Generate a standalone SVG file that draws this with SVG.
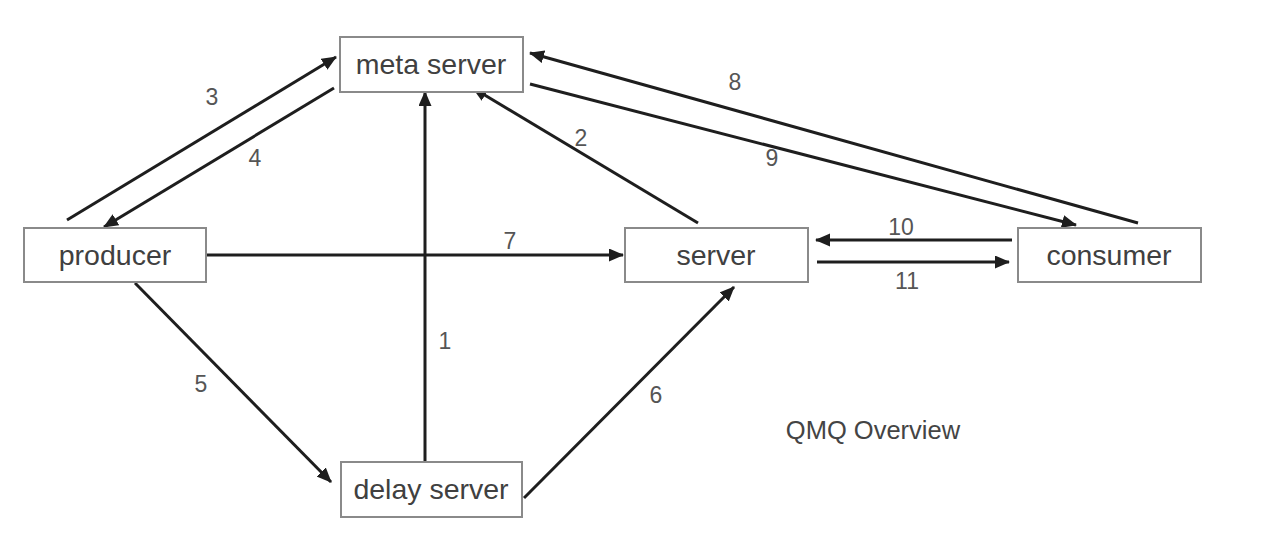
<svg xmlns="http://www.w3.org/2000/svg" width="1262" height="544" viewBox="0 0 1262 544">
<style>
.box{fill:#fff;stroke:#8a8a8a;stroke-width:2}
.nt{font-family:"Liberation Sans",Arial,sans-serif;font-size:28.5px;fill:#404040;text-anchor:middle}
.lb{font-family:"Liberation Sans",Arial,sans-serif;font-size:23px;fill:#555;text-anchor:middle}
.ln{stroke:#1e1e1e;stroke-width:3;fill:none;marker-end:url(#ah)}
</style>
<defs>
<marker id="ah" markerUnits="userSpaceOnUse" markerWidth="16" markerHeight="14" refX="14" refY="6.5" orient="auto">
<path d="M0,0 L15,6.5 L0,13 z" fill="#1e1e1e"/>
</marker>
</defs>
<rect width="1262" height="544" fill="#fff"/>
<g id="connectors">
<line class="ln" x1="67" y1="220" x2="336" y2="57"/>
<line class="ln" x1="334" y1="88" x2="104" y2="227"/>
<line class="ln" x1="425" y1="462" x2="425" y2="92"/>
<line class="ln" x1="698" y1="223" x2="473" y2="88"/>
<line class="ln" x1="207" y1="255" x2="623" y2="255"/>
<line class="ln" x1="1138" y1="223" x2="530" y2="53"/>
<line class="ln" x1="530" y1="84" x2="1076" y2="225"/>
<line class="ln" x1="1012" y1="240" x2="816" y2="240"/>
<line class="ln" x1="817" y1="262" x2="1009" y2="262"/>
<line class="ln" x1="135" y1="283" x2="331" y2="482"/>
<line class="ln" x1="524" y1="498" x2="734" y2="287"/>
<text class="lb" x="212" y="105">3</text>
<text class="lb" x="255" y="166">4</text>
<text class="lb" x="510" y="249">7</text>
<text class="lb" x="581" y="146">2</text>
<text class="lb" x="735" y="90">8</text>
<text class="lb" x="772" y="166">9</text>
<text class="lb" x="901" y="235">10</text>
<text class="lb" x="907" y="289">11</text>
<text class="lb" x="445" y="349">1</text>
<text class="lb" x="201" y="392">5</text>
<text class="lb" x="656" y="403">6</text>
</g>
<g id="meta-server">
<rect class="box" x="340" y="37" width="183" height="55"/>
<text class="nt" x="431" y="74">meta server</text>
</g>
<g id="producer">
<rect class="box" x="24" y="228" width="182" height="54"/>
<text class="nt" x="115" y="265">producer</text>
</g>
<g id="server">
<rect class="box" x="625" y="228" width="183" height="54"/>
<text class="nt" x="716" y="265">server</text>
</g>
<g id="consumer">
<rect class="box" x="1018" y="228" width="183" height="54"/>
<text class="nt" x="1109" y="265">consumer</text>
</g>
<g id="delay-server">
<rect class="box" x="341" y="462" width="181" height="55"/>
<text class="nt" x="431" y="499">delay server</text>
</g>
<text x="873" y="439" style="font-family:'Liberation Sans',Arial,sans-serif;font-size:25.5px;fill:#444;text-anchor:middle">QMQ Overview</text>
</svg>
